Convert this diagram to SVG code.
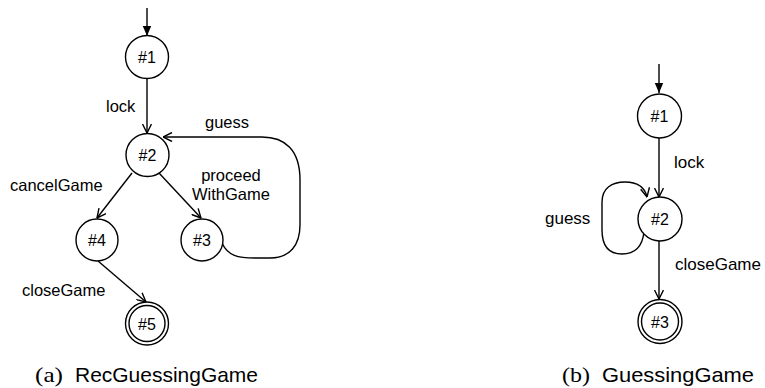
<svg xmlns="http://www.w3.org/2000/svg" width="765" height="388" viewBox="0 0 765 388">
<style>
.n{fill:#fff;stroke:#000;stroke-width:1.4}
.e{fill:none;stroke:#000;stroke-width:1.4}
.t{font-family:"Liberation Sans",Arial,sans-serif;fill:#000}
.nl{font-size:16px;text-anchor:middle}
.la{font-size:16.5px}
.lb{font-size:17px}
.cap{font-family:"Liberation Sans",Arial,sans-serif;font-size:21px;fill:#000}
.capr{font-family:"Liberation Serif","Times New Roman",serif;font-size:21px;fill:#000}
</style>
<defs>
<marker id="open" viewBox="0 0 10 10" refX="9.5" refY="5" markerWidth="10" markerHeight="10" orient="auto" markerUnits="userSpaceOnUse">
<path d="M0.5,0.5 L9.5,5 L0.5,9.5" fill="none" stroke="#000" stroke-width="1.4"/>
</marker>
<marker id="fill" viewBox="0 0 10 10" refX="10" refY="5" markerWidth="10" markerHeight="10" orient="auto" markerUnits="userSpaceOnUse">
<path d="M0,0.8 L10,5 L0,9.2 z" fill="#000"/>
</marker>
</defs>

<g id="connectors">
<!-- left -->
<path class="e" d="M147,8 L147,36" marker-end="url(#fill)"/>
<path class="e" d="M147,79 L147,133" marker-end="url(#open)"/>
<path class="e" d="M132,173 L97,218" marker-end="url(#open)"/>
<path class="e" d="M159,173 L201,218" marker-end="url(#open)"/>
<path class="e" d="M98,261 L146,302" marker-end="url(#open)"/>
<path class="e" d="M222,243 C228,256 238,258 255,258 L270,258 C290,258 300,245 300,225 L300,180 C300,150 285,137 262,137 L163,137" marker-end="url(#open)"/>
<!-- right -->
<path class="e" d="M659,64 L659,93" marker-end="url(#fill)"/>
<path class="e" d="M659,138 L659,197" marker-end="url(#open)"/>
<path class="e" d="M659,241 L659,299" marker-end="url(#open)"/>
<path class="e" d="M644,232 C642,250 632,254 622,254 C608,254 602,245 602,230 L602,202 C602,188 612,182 625,182 C638,182 645,188 647,197" marker-end="url(#open)"/>
</g>

<g id="edge-labels">
<text class="t la" x="106" y="112">lock</text>
<text class="t la" x="205" y="128">guess</text>
<text class="t la" x="10" y="191">cancelGame</text>
<text class="t la" x="231" y="181" text-anchor="middle">proceed</text>
<text class="t la" x="231" y="200" text-anchor="middle">WithGame</text>
<text class="t la" x="22" y="296">closeGame</text>
<text class="t lb" x="674" y="168">lock</text>
<text class="t lb" x="545" y="224">guess</text>
<text class="t lb" x="675" y="270">closeGame</text>
</g>

<g id="a1"><circle class="n" cx="147" cy="57" r="21.5"/><text class="t nl" x="147" y="63">#1</text></g>
<g id="a2"><circle class="n" cx="147.5" cy="155" r="21.5"/><text class="t nl" x="147.5" y="161">#2</text></g>
<g id="a4"><circle class="n" cx="97" cy="240" r="21"/><text class="t nl" x="97" y="246">#4</text></g>
<g id="a3"><circle class="n" cx="202" cy="240" r="21"/><text class="t nl" x="202" y="246">#3</text></g>
<g id="a5"><circle class="n" cx="147" cy="323.5" r="21.5"/><circle class="n" cx="147" cy="323.5" r="18"/><text class="t nl" x="147" y="329.5">#5</text></g>

<g id="b1"><circle class="n" cx="659.5" cy="116" r="22"/><text class="t nl" x="659.5" y="122">#1</text></g>
<g id="b2"><circle class="n" cx="660" cy="219" r="22"/><text class="t nl" x="660" y="225">#2</text></g>
<g id="b3"><circle class="n" cx="660" cy="321.5" r="22"/><circle class="n" cx="660" cy="321.5" r="18.5"/><text class="t nl" x="660" y="327.5">#3</text></g>

<g id="captions">
<text class="capr" x="35" y="382" textLength="28" lengthAdjust="spacingAndGlyphs">(a)</text>
<text class="cap" x="75" y="382" textLength="183" lengthAdjust="spacingAndGlyphs">RecGuessingGame</text>
<text class="capr" x="562" y="382" textLength="28" lengthAdjust="spacingAndGlyphs">(b)</text>
<text class="cap" x="602" y="382" textLength="152" lengthAdjust="spacingAndGlyphs">GuessingGame</text>
</g>
</svg>
